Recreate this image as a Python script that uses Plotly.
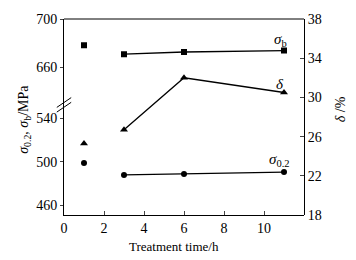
import plotly.graph_objects as go

# Data
time_h = [1, 3, 6, 11]
sigma_b = [678.5, 671, 672.8, 674]      # MPa, upper left axis
sigma_02 = [499, 488, 488.8, 490.6]     # MPa, lower left axis
delta = [25.3, 26.7, 32.0, 30.5]        # %, right axis

x_ticks = [0, 2, 4, 6, 8, 10]
lower_ticks = [460, 500, 540]
upper_ticks = [660, 700]
right_ticks = [18, 22, 26, 30, 34, 38]

FONT = "Liberation Serif"
BREAK = 0.562

fig = go.Figure()

def add_series(y, axis, symbol, size):
    fig.add_trace(go.Scatter(x=time_h[:1], y=y[:1], mode="markers", yaxis=axis,
                             marker=dict(symbol=symbol, size=size, color="black"),
                             showlegend=False))
    fig.add_trace(go.Scatter(x=time_h[1:], y=y[1:], mode="lines+markers", yaxis=axis,
                             line=dict(color="black", width=1.3),
                             marker=dict(symbol=symbol, size=size, color="black"),
                             showlegend=False))

add_series(sigma_b, "y3", "square", 6)
add_series(sigma_02, "y", "circle", 6)
add_series(delta, "y2", "triangle-up", 7)

tickfont = dict(family=FONT, size=14, color="black")

fig.update_layout(
    width=356, height=260,
    margin=dict(l=64, r=52, t=14, b=45),
    paper_bgcolor="white", plot_bgcolor="rgba(0,0,0,0)",
    font=dict(family=FONT, color="black"),
    xaxis=dict(range=[0, 12], tickvals=x_ticks, ticks="inside", ticklen=4,
               showline=True, linecolor="black", linewidth=1, mirror=False,
               showgrid=False, zeroline=False, tickfont=tickfont),
    yaxis=dict(domain=[0, BREAK], range=[451, 552.6], tickvals=lower_ticks,
               ticks="outside", ticklen=3, showline=True, linecolor="black",
               linewidth=1, showgrid=False, zeroline=False, tickfont=tickfont,
               anchor="x", side="left"),
    yaxis3=dict(domain=[BREAK, 1], range=[628.6, 700.4], tickvals=upper_ticks,
                ticks="outside", ticklen=3, showline=True, linecolor="black",
                linewidth=1, showgrid=False, zeroline=False, tickfont=tickfont,
                anchor="x", side="left"),
    yaxis2=dict(domain=[0, 1], range=[18, 38], tickvals=right_ticks,
                ticks="inside", ticklen=4, showline=True, linecolor="black",
                linewidth=1, showgrid=False, zeroline=False, tickfont=tickfont,
                anchor="x", side="right"),
)

# Top frame line
fig.add_shape(type="line", xref="paper", yref="paper", x0=0, x1=1, y0=1, y1=1,
              line=dict(color="black", width=1))

# Axis break marks
for dy in (-0.012, 0.012):
    fig.add_shape(type="line", xref="paper", yref="paper",
                  x0=-0.03, x1=0.03, y0=BREAK + dy - 0.025, y1=BREAK + dy + 0.025,
                  line=dict(color="black", width=1))

lab = dict(family=FONT, size=15, color="black")
fig.add_annotation(x=10.8, y=683, xref="x", yref="y3", text="<i>σ</i><sub>b</sub>",
                   showarrow=False, font=lab, xanchor="center", yanchor="middle")
fig.add_annotation(x=10.8, y=31.4, xref="x", yref="y2", text="<i>δ</i>",
                   showarrow=False, font=lab, xanchor="center", yanchor="middle")
fig.add_annotation(x=10.75, y=502, xref="x", yref="y", text="<i>σ</i><sub>0.2</sub>",
                   showarrow=False, font=lab, xanchor="center", yanchor="middle")

fig.add_annotation(x=-0.163, y=0.49, xref="paper", yref="paper", textangle=-90,
                   text="<i>σ</i><sub>0.2</sub>, <i>σ</i><sub>b</sub>/MPa",
                   showarrow=False, font=dict(family=FONT, size=14, color="black"),
                   xanchor="center", yanchor="middle")
fig.add_annotation(x=1.15, y=0.54, xref="paper", yref="paper", textangle=-90,
                   text="<i>δ</i> /%", showarrow=False,
                   font=dict(family=FONT, size=14, color="black"),
                   xanchor="center", yanchor="middle")
fig.add_annotation(x=0.46, y=-0.16, xref="paper", yref="paper",
                   text="Treatment time/h", showarrow=False,
                   font=dict(family=FONT, size=13, color="black"),
                   xanchor="center", yanchor="middle")

fig.write_html("out.html")
